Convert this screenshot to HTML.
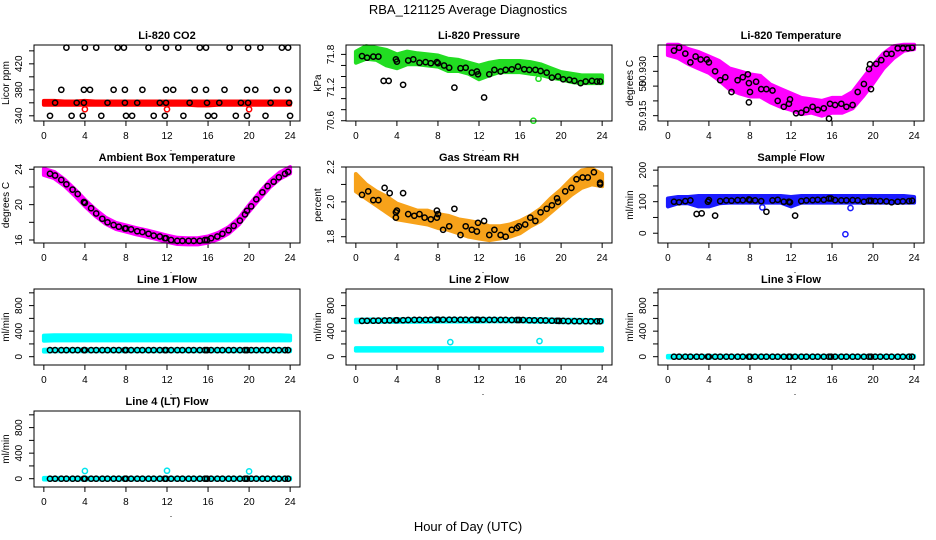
<!DOCTYPE html>
<html><head><meta charset="utf-8"><title>RBA_121125 Average Diagnostics</title>
<style>html,body{margin:0;padding:0;background:#fff}svg{display:block}text{font-family:"Liberation Sans",sans-serif}</style>
</head><body>
<svg id="chart" width="936" height="540" viewBox="0 0 936 540" xmlns="http://www.w3.org/2000/svg">
<rect width="936" height="540" fill="#fff"/>
<text x="468" y="14" text-anchor="middle" font-size="13">RBA_121125  Average Diagnostics</text>
<text x="468" y="531" text-anchor="middle" font-size="13">Hour of Day (UTC)</text>
</svg>
<script>
// ---- shared data ----
const bandHours = [0,1,2,3,4,5,6,7,8,9,10,11,12,13,14,15,16,17,18,19,20,21,22,23,24];
const avgHours = [0.6,1.1,1.7,2.2,2.8,3.3,3.9,4.0,4.6,5.1,5.7,6.2,6.8,7.3,7.9,8.0,8.5,9.1,9.6,10.2,10.7,11.3,11.8,11.9,12.4,13.0,13.5,14.1,14.6,15.2,15.7,15.9,16.3,16.9,17.4,18.0,18.5,19.1,19.6,19.8,20.2,20.7,21.3,21.8,22.4,22.9,23.5,23.8];
const xTicks = [0,4,8,12,16,20,24];

// CO2
const co2Hours = [2.2,4.0,5.1,7.2,7.8,10.2,11.9,13.1,15.2,15.8,18.1,19.9,21.1,23.2,23.8, 1.7,3.9,4.5,6.8,7.9,9.6,11.9,12.6,14.7,15.8,17.6,19.8,20.6,22.7,23.8, 1.1,3.2,3.9,6.2,7.9,9.1,11.3,11.9,14.2,15.9,17.1,19.2,19.9,22.1,23.9, 0.6,2.7,3.8,5.6,8.0,8.6,10.7,11.8,13.6,16.0,16.6,18.7,19.8,21.6,24.0];
const co2Values = [445,445,445,445,445,445,445,445,445,445,445,445,445,445,445, 380,380,380,380,380,380,380,380,380,380,380,380,380,380,380, 360,360,360,360,360,360,360,360,360,360,360,360,360,360,360, 340,340,340,340,340,340,340,340,340,340,340,340,340,340,340];
const co2BandLo = [357,357,357,357,357,357,357,357,357,357,357,357,357,357,357,356,356,357,357,357,357,357,357,357,357];
const co2BandHi = [363,363,362,362,363,362,362,362,362,362,362,362,362,362,362,362,362,362,362,362,362,362,362,362,362];
const co2OutHours = [4.0,12.0,20.0];
const co2OutValues = [350,350,350];

// Pressure
const presHours = [0.6,1.1,1.7,2.2,2.7,3.2,3.9,4.0,4.6,5.1,5.6,6.2,6.8,7.3,7.9,8.0,8.6,9.1,9.6,10.2,10.7,11.3,11.8,11.9,12.5,13.0,13.5,14.1,14.6,15.2,15.8,16.4,16.9,17.5,18.0,18.6,19.1,19.7,20.2,20.8,21.3,21.9,22.4,23.0,23.5,23.8];
const presValues = [71.77,71.74,71.76,71.76,71.32,71.32,71.71,71.67,71.25,71.69,71.71,71.65,71.66,71.64,71.66,71.64,71.60,71.56,71.20,71.55,71.56,71.47,71.49,71.44,71.02,71.44,71.52,71.49,71.52,71.53,71.58,71.53,71.52,71.52,71.50,71.47,71.38,71.40,71.35,71.34,71.32,71.28,71.31,71.32,71.31,71.31];
const presBandLo = [71.65,71.72,71.70,71.60,71.55,71.62,71.62,71.60,71.58,71.50,71.50,71.45,71.35,71.42,71.48,71.48,71.48,71.45,71.43,71.38,71.35,71.30,71.28,71.28,71.28];
const presBandHi = [71.85,71.95,71.92,71.88,71.80,71.85,71.82,71.80,71.78,71.72,71.70,71.65,71.60,71.65,71.68,71.68,71.68,71.66,71.62,71.55,71.48,71.45,71.42,71.42,71.42];
const presOutHours = [17.3,17.8];
const presOutValues = [70.6,71.36];

// Li-820 Temperature
const tempHours = [0.6,1.1,1.7,2.2,2.7,3.2,3.8,4.0,4.6,5.1,5.6,6.2,6.8,7.3,7.8,7.9,8.0,7.9,8.6,9.1,9.6,10.2,10.7,11.3,11.8,11.9,12.5,13.0,13.5,14.1,14.6,15.2,15.7,15.8,16.3,16.9,17.4,18.0,18.5,19.1,19.6,19.7,19.8,20.3,20.8,21.3,21.8,22.4,22.9,23.4,23.8];
const tempValues = [50.937,50.938,50.936,50.933,50.935,50.934,50.934,50.933,50.930,50.927,50.928,50.923,50.927,50.928,50.929,50.926,50.923,50.9195,50.9265,50.924,50.924,50.9235,50.920,50.918,50.919,50.9205,50.9158,50.916,50.917,50.918,50.917,50.9175,50.914,50.919,50.9186,50.919,50.918,50.9186,50.923,50.9257,50.9308,50.9324,50.924,50.9325,50.9338,50.9359,50.9359,50.9378,50.9378,50.9378,50.9380];
const tempBandLo = [50.9355,50.9345,50.9325,50.9310,50.9295,50.9270,50.9240,50.9225,50.9215,50.9215,50.9195,50.9180,50.9170,50.9155,50.9160,50.9150,50.9160,50.9160,50.9175,50.9215,50.9260,50.9310,50.9345,50.9370,50.9375];
const tempBandHi = [50.9390,50.9390,50.9375,50.9365,50.9350,50.9335,50.9310,50.9300,50.9290,50.9285,50.9255,50.9240,50.9225,50.9210,50.9205,50.9200,50.9210,50.9210,50.9230,50.9275,50.9320,50.9360,50.9385,50.9390,50.9390];

// Ambient box temperature
const ambValues = [23.5,23.3,22.8,22.3,21.7,21.2,20.3,20.2,19.6,19.0,18.4,18.0,17.7,17.5,17.3,17.3,17.2,17.0,16.9,16.7,16.5,16.4,16.2,16.2,16.0,15.9,15.9,15.9,15.9,15.9,16.0,16.0,16.2,16.4,16.7,17.1,17.6,18.2,18.9,19.3,19.8,20.6,21.4,22.1,22.6,23.1,23.5,23.7];
const ambBandLo = [23.35,23.0,22.15,21.05,19.85,18.75,17.85,17.25,16.95,16.65,16.4,16.1,15.8,15.55,15.5,15.5,15.7,16.1,16.75,17.75,19.25,20.65,21.95,22.95,23.55];
const ambBandHi = [24.05,23.7,22.85,21.75,20.55,19.45,18.55,17.95,17.65,17.35,17.1,16.8,16.5,16.25,16.2,16.2,16.4,16.8,17.45,18.45,19.95,21.35,22.65,23.65,24.25];

// Gas stream RH
const rhHours = [0.6,1.2,1.7,2.2,2.8,3.3,3.9,3.9,4.0,4.6,5.1,5.7,6.2,6.7,7.3,7.9,7.9,8.0,8.5,9.1,9.6,10.2,10.7,11.3,11.8,11.9,12.5,13.0,13.5,14.1,14.6,15.2,15.7,15.9,16.5,17.0,17.5,18.0,18.6,19.1,19.6,19.7,20.4,21.0,21.5,22.1,22.6,23.2,23.8,23.8];
const rhValues = [2.04,2.06,2.01,2.01,2.08,2.05,1.94,1.91,1.95,2.05,1.93,1.92,1.93,1.91,1.90,1.95,1.91,1.93,1.84,1.86,1.96,1.81,1.86,1.84,1.83,1.88,1.89,1.81,1.84,1.81,1.80,1.84,1.85,1.86,1.87,1.91,1.89,1.94,1.96,1.98,2.02,2.00,2.06,2.08,2.13,2.14,2.14,2.17,2.10,2.11];
const rhBandLo = [2.06,2.02,1.98,1.94,1.90,1.89,1.88,1.87,1.85,1.84,1.82,1.80,1.79,1.78,1.79,1.80,1.82,1.86,1.89,1.94,1.99,2.04,2.08,2.10,2.09];
const rhBandHi = [2.16,2.10,2.06,2.03,1.99,1.97,1.95,1.95,1.93,1.92,1.90,1.89,1.88,1.86,1.86,1.87,1.89,1.92,1.96,2.02,2.07,2.13,2.18,2.19,2.16];

// Sample flow
const sfValues = [100,98,102,104,61,63,100,105,56,102,104,103,105,105,107,105,104,102,68,104,106,100,100,98,56,102,104,105,106,106,110,110,105,104,104,105,104,100,103,103,102,102,101,98,100,101,102,103];
const sfBandLo = [85,95,95,85,85,95,97,97,97,97,97,97,85,97,97,97,97,97,97,97,97,97,97,97,97];
const sfBandHi = [110,115,115,118,118,118,118,118,118,118,118,118,115,118,118,118,118,118,118,118,118,118,118,118,115];
const sfOutHours = [17.3,17.8,9.2];
const sfOutValues = [-3,80,82];

// Line flows
const l1Values = [104,104,104,104,104,104,104,104,104,104,104,104,104,104,104,104,104,104,104,104,104,104,104,104,104,104,104,104,104,104,104,104,104,104,104,104,104,104,104,104,104,104,104,104,104,104,104,104];
const l1BandLo = [250,255,255,255,255,255,255,255,255,255,255,255,255,255,255,255,255,255,255,255,255,255,255,255,255];
const l1BandHi = [330,335,335,335,335,335,335,335,335,335,335,335,335,335,335,335,335,335,335,335,335,335,335,335,330];
const l1LowLo = [80,85,85,85,85,85,85,85,85,85,85,85,85,85,85,85,85,85,85,85,85,85,85,85,85];
const l1LowHi = [110,115,115,115,115,115,115,115,115,115,115,115,115,115,115,115,115,115,115,115,115,115,115,115,115];
const l2Values = [560,562,564,565,566,568,570,572,572,574,576,578,578,580,580,580,580,580,580,580,580,580,580,578,578,576,576,576,576,575,575,575,574,572,570,568,566,564,562,560,560,558,558,556,556,555,555,555];
const l2BandLo = [540,545,545,545,545,545,545,548,550,550,550,550,550,552,552,552,552,548,548,545,540,540,540,540,540];
const l2BandHi = [580,582,582,582,585,585,588,590,592,592,592,592,592,592,592,590,590,588,586,584,580,578,576,575,575];
const l2LowLo = [95,95,95,95,95,95,95,95,95,95,95,95,95,95,95,95,95,95,95,95,95,95,95,95,95];
const l2LowHi = [135,135,135,135,135,135,135,135,135,135,135,135,135,135,135,135,135,135,135,135,135,135,135,135,135];
const l2OutHours = [9.2,17.9];
const l2OutValues = [229,244];
const l3Values = [0,0,0,0,0,0,0,0,0,0,0,0,0,0,0,0,0,0,0,0,0,0,0,0,0,0,0,0,0,0,0,0,0,0,0,0,0,0,0,0,0,0,0,0,0,0,0,0];
const zeroBandLo = [-12,-12,-12,-12,-12,-12,-12,-12,-12,-12,-12,-12,-12,-12,-12,-12,-12,-12,-12,-12,-12,-12,-12,-12,-12];
const zeroBandHi = [12,12,12,12,12,12,12,12,12,12,12,12,12,12,12,12,12,12,12,12,12,12,12,12,12];
const l4Values = [0,0,0,0,0,0,0,0,0,0,0,0,0,0,0,0,0,0,0,0,0,0,0,0,0,0,0,0,0,0,0,0,0,0,0,0,0,0,0,0,0,0,0,0,0,0,0,0];
const l4OutHours = [4.0,12.0,20.0];
const l4OutValues = [120,125,115];

// tick definitions
const co2Ticks = [340,360,380,400,420,440]; const co2Labels = ["340","","380","","420",""];
const presTicks = [70.6,70.8,71.0,71.2,71.4,71.6,71.8]; const presLabels = ["70.6","","","71.2","","","71.8"];
const tempTicks = [50.915,50.920,50.925,50.930,50.935]; const tempLabels = ["50.915","","50","50.930",""];
const ambTicks = [16,18,20,22,24]; const ambLabels = ["16","","20","","24"];
const rhTicks = [1.8,1.9,2.0,2.1,2.2]; const rhLabels = ["1.8","","2.0","","2.2"];
const sfTicks = [0,50,100,150,200]; const sfLabels = ["0","","100","","200"];
const flowTicks = [0,200,400,600,800,1000]; const flowLabels = ["0","","400","","800",""];

// ---- drawing ----
const svg = document.getElementById('chart');
const NS = 'http://www.w3.org/2000/svg';
function mk(tag, attrs, parent){ const e=document.createElementNS(NS,tag); for(const k in attrs) e.setAttribute(k,attrs[k]); (parent||svg).appendChild(e); return e; }
const BW=266, BH=76;
function makePanel(slug, col, row, title, ylab, ylim, ticks, labels){
  const L=34+col*312, T=45+row*122;
  const g=mk('g',{});
  
  
  const sx=h=>L+(h+0.96)/25.92*BW;
  const sy=v=>T+BH-(v-ylim[0])/(ylim[1]-ylim[0])*BH;
  const t=mk('text',{x:L+BW/2,y:T-6,'text-anchor':'middle','font-size':'11','font-weight':'bold'},g);
  t.textContent=title;
  
  
  // x axis
  const xa=mk('g',{},g);
  
  
  mk('line',{x1:sx(0),x2:sx(24),y1:T+BH,y2:T+BH,stroke:'#000'},xa);
  xTicks.forEach(v=>{
    mk('line',{x1:sx(v),x2:sx(v),y1:T+BH,y2:T+BH+5,stroke:'#000'},xa);
    const tx=mk('text',{x:sx(v),y:T+BH+18,'text-anchor':'middle','font-size':'10'},xa);
    tx.textContent=String(v);
  });
  const dot=mk('text',{x:L+BW/2+4,y:T+BH+30,'text-anchor':'middle','font-size':'9'},xa); dot.textContent='.';
  // y axis
  const ya=mk('g',{},g);
  
  
  mk('line',{x1:L,x2:L,y1:sy(ticks[0]),y2:sy(ticks[ticks.length-1]),stroke:'#000'},ya);
  ticks.forEach((v,i)=>{
    mk('line',{x1:L-5,x2:L,y1:sy(v),y2:sy(v),stroke:'#000'},ya);
    if(labels[i]){ const yy=sy(v); const tx=mk('text',{x:L-12,y:yy,'text-anchor':'middle','font-size':'10',transform:'rotate(-90 '+(L-12)+' '+yy+')'},ya); tx.textContent=labels[i]; }
  });
  const yl=mk('text',{x:L-25,y:T+BH/2,'text-anchor':'middle','font-size':'10',transform:'rotate(-90 '+(L-25)+' '+(T+BH/2)+')'},ya);
  yl.textContent=ylab;
  
  
  const plot=mk('g',{},g);
  const box=mk('rect',{x:L,y:T,width:BW,height:BH,fill:'none',stroke:'#000'},g);
  
  
  return {sx,sy,plot};
}
function band(P, name, hrs, lo, hi, color){
  let d='';
  hrs.forEach((h,i)=>{ d+=(i?'L':'M')+P.sx(h).toFixed(1)+' '+P.sy(hi[i]).toFixed(1); });
  for(let i=hrs.length-1;i>=0;i--) d+='L'+P.sx(hrs[i]).toFixed(1)+' '+P.sy(lo[i]).toFixed(1);
  const p=mk('path',{d:d+'Z',fill:color,stroke:color,'stroke-width':'4','stroke-linejoin':'round'},P.plot);
  
  
}
function points(P, name, hrs, vals, color){
  const g=mk('g',{},P.plot);
  
  
  hrs.forEach((h,i)=>{ mk('circle',{cx:P.sx(h).toFixed(1),cy:P.sy(vals[i]).toFixed(1),r:'2.6',fill:'none',stroke:color,'stroke-width':'1.5'},g); });
}

let P;
P=makePanel('co2',0,0,'Li-820 CO2','Licor ppm',[332,449],co2Ticks,co2Labels);
band(P,'co2-raw-band',bandHours,co2BandLo,co2BandHi,'#ff0000');
points(P,'co2-raw-outliers',co2OutHours,co2OutValues,'#ff0000');
points(P,'co2-averages',co2Hours,co2Values,'#000');

P=makePanel('pressure',1,0,'Li-820 Pressure','kPa',[70.595,71.97],presTicks,presLabels);
band(P,'pressure-raw-band',bandHours,presBandLo,presBandHi,'#22dd22');
points(P,'pressure-raw-outliers',presOutHours,presOutValues,'#22dd22');
points(P,'pressure-averages',presHours,presValues,'#000');

P=makePanel('li820-temp',2,0,'Li-820 Temperature','degrees C',[50.9132,50.9389],tempTicks,tempLabels);
band(P,'li820-temp-raw-band',bandHours,tempBandLo,tempBandHi,'#ff00ff');
points(P,'li820-temp-averages',tempHours,tempValues,'#000');

P=makePanel('ambient-temp',0,1,'Ambient Box Temperature','degrees C',[15.66,24.26],ambTicks,ambLabels);
band(P,'ambient-temp-raw-band',bandHours,ambBandLo,ambBandHi,'#ff00ff');
points(P,'ambient-temp-averages',avgHours,ambValues,'#000');

P=makePanel('gas-rh',1,1,'Gas Stream RH','percent',[1.764,2.2],rhTicks,rhLabels);
band(P,'gas-rh-raw-band',bandHours,rhBandLo,rhBandHi,'#f7a21a');
points(P,'gas-rh-averages',rhHours,rhValues,'#000');

P=makePanel('sample-flow',2,1,'Sample Flow','ml/min',[-31,210],sfTicks,sfLabels);
band(P,'sample-flow-raw-band',bandHours,sfBandLo,sfBandHi,'#1a1aff');
points(P,'sample-flow-raw-outliers',sfOutHours,sfOutValues,'#1a1aff');
points(P,'sample-flow-averages',avgHours,sfValues,'#000');

P=makePanel('line1-flow',0,2,'Line 1 Flow','ml/min',[-130,1060],flowTicks,flowLabels);
band(P,'line1-flow-raw-band-upper',bandHours,l1BandLo,l1BandHi,'#00ffff');
band(P,'line1-flow-raw-band-lower',bandHours,l1LowLo,l1LowHi,'#00ffff');
points(P,'line1-flow-averages',avgHours,l1Values,'#000');

P=makePanel('line2-flow',1,2,'Line 2 Flow','ml/min',[-130,1060],flowTicks,flowLabels);
band(P,'line2-flow-raw-band-upper',bandHours,l2BandLo,l2BandHi,'#00ffff');
band(P,'line2-flow-raw-band-lower',bandHours,l2LowLo,l2LowHi,'#00ffff');
points(P,'line2-flow-raw-outliers',l2OutHours,l2OutValues,'#00e5ee');
points(P,'line2-flow-averages',avgHours,l2Values,'#000');

P=makePanel('line3-flow',2,2,'Line 3 Flow','ml/min',[-130,1060],flowTicks,flowLabels);
band(P,'line3-flow-raw-band',bandHours,zeroBandLo,zeroBandHi,'#00ffff');
points(P,'line3-flow-averages',avgHours,l3Values,'#000');

P=makePanel('line4-flow',0,3,'Line 4 (LT) Flow','ml/min',[-130,1060],flowTicks,flowLabels);
band(P,'line4-flow-raw-band',bandHours,zeroBandLo,zeroBandHi,'#00ffff');
points(P,'line4-flow-raw-outliers',l4OutHours,l4OutValues,'#00e5ee');
points(P,'line4-flow-averages',avgHours,l4Values,'#000');
</script>
</body></html>
